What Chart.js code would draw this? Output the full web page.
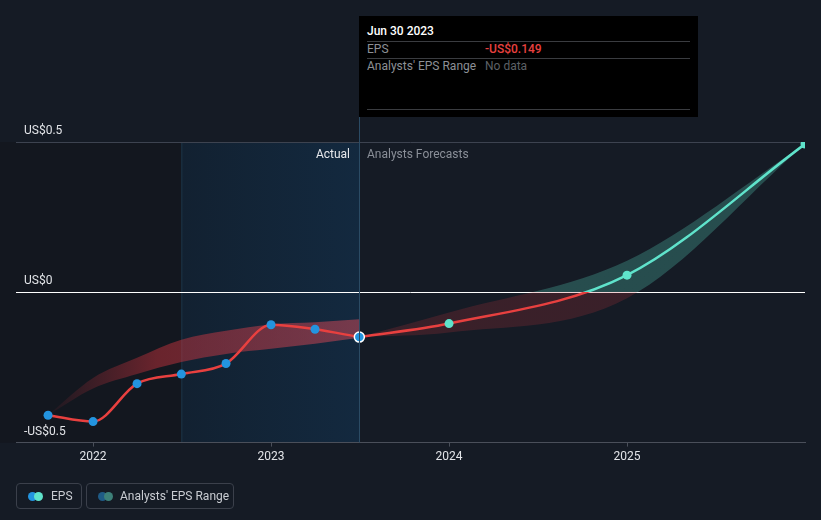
<!DOCTYPE html>
<html>
<head>
<meta charset="utf-8">
<script src="https://cdn.jsdelivr.net/npm/chart.js@4.4.1/dist/chart.umd.min.js"></script>
<style>
  body { margin: 0; background: #151b25; font-family: Roboto, "Noto Sans", sans-serif; }
  #wrap { position: relative; width: 821px; height: 520px; overflow: hidden; }
  canvas { position: absolute; left: 0; top: 0; }
  .lbl { position: absolute; font-size: 12px; line-height: 14px; white-space: nowrap; }
  #tip { position: absolute; left: 359px; top: 16px; width: 339px; height: 101px; background: #000; }
  #tip .row { position: absolute; left: 8px; right: 8px; font-size: 12px; line-height: 14px; }
  #tip .sep { position: absolute; left: 8px; right: 8px; height: 1px; background: #3a3c40; }
  .leg { position: absolute; top: 483px; height: 26px; border: 1px solid #3b404b; border-radius: 4px; box-sizing: border-box; }
  .leg .dot { position: absolute; top: 8px; width: 9px; height: 9px; border-radius: 50%; }
  .leg span { position: absolute; top: 5px; font-size: 12px; line-height: 14px; color: #c9ccd2; white-space: nowrap; }
</style>
</head>
<body>
<div id="wrap">
  <canvas id="epsChart" width="821" height="520"></canvas>
  <div class="lbl" style="right:471px; top:147px; color:#e6e8ec;">Actual</div>
  <div class="lbl" style="left:367px; top:147px; color:#8a8f98;">Analysts Forecasts</div>
  <div id="tip">
    <div class="row" style="top:8px; color:#fff; font-weight:500;">Jun 30 2023</div>
    <div class="sep" style="top:25px;"></div>
    <div class="row" style="top:26px; color:#8d9096;">EPS</div>
    <div class="row" style="top:26px; left:126px; color:#e8403f; font-weight:500;">-US$0.149</div>
    <div class="sep" style="top:42px;"></div>
    <div class="row" style="top:43px; color:#8d9096;">Analysts' EPS Range</div>
    <div class="row" style="top:43px; left:126px; color:#5d6066;">No data</div>
    <div class="sep" style="top:93px;"></div>
  </div>
  <div class="leg" style="left:16px; width:66px;">
    <div class="dot" style="left:11px; background:#2394df;"></div>
    <div class="dot" style="left:17px; background:#5fe3cb;"></div>
    <span style="left:34px;">EPS</span>
  </div>
  <div class="leg" style="left:86px; width:148px;">
    <div class="dot" style="left:11px; background:#1f5b86;"></div>
    <div class="dot" style="left:17px; background:#3d8079;"></div>
    <span style="left:33px;">Analysts' EPS Range</span>
  </div>
</div>
<script>
// dates as decimal years
const actualDates = [2021.747, 2022.0, 2022.247, 2022.496, 2022.747, 2023.0, 2023.247, 2023.496];
const actualEps = [-0.409, -0.43, -0.304, -0.272, -0.237, -0.108, -0.123, -0.149];

const pastRangeHigh = [-0.409, -0.285, -0.218, -0.158, -0.128, -0.107, -0.100, -0.090];
const pastRangeLow = [-0.409, -0.320, -0.272, -0.232, -0.205, -0.188, -0.171, -0.151];

const forecastDates = [2023.496, 2024.0, 2025.0, 2026.0];
const forecastEps = [-0.149, -0.104, 0.057, 0.493];
const forecastHigh = [-0.149, -0.067, 0.105, 0.493];
const forecastLow = [-0.149, -0.134, -0.020, 0.493];

const xTicks = [2022, 2023, 2024, 2025];
const yTicks = [-0.5, 0, 0.5];
const yTickLabels = ["-US$0.5", "US$0", "US$0.5"];

const pastStart = 2022.496;
const hoverDate = 2023.496;

const RED = "#e8403f";
const BLUE = "#2394df";
const TEAL = "#5fe3cb";

function pts(xs, ys) {
    return xs.map((x, i) => ({ x: x, y: ys[i] }));
}

// colour above / below zero
function zeroSplit(context, below, above) {
    const chart = context.chart;
    const area = chart.chartArea;
    if (!area) return below;
    const y0 = chart.scales.y.getPixelForValue(0);
    const g = chart.ctx.createLinearGradient(0, area.top, 0, area.bottom);
    let s = (y0 - area.top) / (area.bottom - area.top);
    s = Math.min(1, Math.max(0, s));
    g.addColorStop(0, above);
    g.addColorStop(s, above);
    g.addColorStop(s, below);
    g.addColorStop(1, below);
    return g;
}

function pastBandFill(context) {
    const chart = context.chart;
    const area = chart.chartArea;
    if (!area) return "rgba(200,60,70,0.4)";
    const x = chart.scales.x;
    const g = chart.ctx.createLinearGradient(x.getPixelForValue(actualDates[0]), 0, x.getPixelForValue(hoverDate), 0);
    g.addColorStop(0, "rgba(200,50,60,0.05)");
    g.addColorStop(0.35, "rgba(200,50,60,0.48)");
    g.addColorStop(1, "rgba(215,75,90,0.5)");
    return g;
}

const backdrop = {
    id: "backdrop",
    beforeDraw(chart) {
        const { ctx, chartArea, scales } = chart;
        const xa = scales.x.getPixelForValue(pastStart);
        const xb = scales.x.getPixelForValue(hoverDate);
        ctx.save();
        ctx.fillStyle = "#13171f";
        ctx.fillRect(0, chartArea.top, xa, chartArea.bottom - chartArea.top);
        const g = ctx.createLinearGradient(xa, 0, xb, 0);
        g.addColorStop(0, "#122131");
        g.addColorStop(1, "#13293f");
        ctx.fillStyle = g;
        ctx.fillRect(xa, chartArea.top, xb - xa, chartArea.bottom - chartArea.top);
        ctx.fillStyle = "#1d3447";
        ctx.fillRect(xa, chartArea.top, 1, chartArea.bottom - chartArea.top);
        ctx.restore();
    },
    afterDatasetsDraw(chart) {
        const { ctx, chartArea, scales } = chart;
        const xb = Math.round(scales.x.getPixelForValue(hoverDate)) + 0.5;
        ctx.save();
        ctx.strokeStyle = "#2b4b64";
        ctx.lineWidth = 1;
        ctx.beginPath();
        ctx.moveTo(xb, 16);
        ctx.lineTo(xb, chartArea.bottom);
        ctx.stroke();
        ctx.restore();
    }
};

const epsChart = new Chart(document.getElementById("epsChart"), {
    type: "line",
    data: {
        datasets: [
            {
                label: "pastHigh",
                data: pts(actualDates, pastRangeHigh),
                borderWidth: 0,
                pointRadius: 0,
                fill: "+1",
                backgroundColor: pastBandFill,
                order: 3,
            },
            {
                label: "pastLow",
                data: pts(actualDates, pastRangeLow),
                borderWidth: 0,
                pointRadius: 0,
                fill: false,
                order: 3,
            },
            {
                label: "forecastHigh",
                data: pts(forecastDates, forecastHigh),
                borderWidth: 0,
                pointRadius: 0,
                fill: "+1",
                backgroundColor: (c) => zeroSplit(c, "rgba(190,50,60,0.22)", "rgba(95,227,203,0.25)"),
                order: 3,
            },
            {
                label: "forecastLow",
                data: pts(forecastDates, forecastLow),
                borderWidth: 0,
                pointRadius: 0,
                fill: false,
                order: 3,
            },
            {
                label: "EPS forecast",
                data: pts(forecastDates, forecastEps),
                borderColor: (c) => zeroSplit(c, RED, TEAL),
                borderWidth: 2.5,
                pointRadius: [0, 4.5, 4.5, 4.5],
                pointBackgroundColor: TEAL,
                pointBorderWidth: 0,
                fill: false,
                clip: 0,
                order: 2,
            },
            {
                label: "EPS",
                data: pts(actualDates, actualEps),
                borderColor: RED,
                borderWidth: 2.5,
                pointRadius: [4.5, 4.5, 4.5, 4.5, 4.5, 4.5, 4.5, 5],
                pointBackgroundColor: BLUE,
                pointBorderColor: ["", "", "", "", "", "", "", "#ffffff"],
                pointBorderWidth: [0, 0, 0, 0, 0, 0, 0, 1.5],
                fill: false,
                clip: 0,
                order: 1,
            },
        ],
    },
    options: {
        responsive: false,
        animation: false,
        events: [],
        cubicInterpolationMode: "monotone",
        layout: { padding: { left: 0, right: 16, top: 142, bottom: 53 } },
        plugins: { legend: { display: false }, tooltip: { enabled: false } },
        scales: {
            x: {
                type: "linear",
                min: 2021.567,
                max: 2026.0,
                afterBuildTicks: (s) => { s.ticks = xTicks.map((v) => ({ value: v })); },
                grid: { drawOnChartArea: false, drawTicks: true, tickLength: 4, color: "#4a4f5a" },
                border: { color: "#4a4f5a" },
                ticks: {
                    color: "#e2e4e8",
                    padding: 3,
                    font: { family: "Roboto", size: 12 },
                    callback: (v) => String(v),
                    maxRotation: 0,
                },
            },
            y: {
                min: -0.5,
                max: 0.5,
                afterBuildTicks: (s) => { s.ticks = yTicks.map((v) => ({ value: v })); },
                border: { display: false },
                grid: {
                    drawTicks: false,
                    color: (c) => (c.tick && c.tick.value === 0 ? "#ffffff" : c.tick && c.tick.value === 0.5 ? "#3d4350" : "rgba(0,0,0,0)"),
                },
                ticks: {
                    mirror: true,
                    padding: 8,
                    labelOffset: -11,
                    color: "#e2e4e8",
                    font: { family: "Roboto", size: 12 },
                    callback: (v) => yTickLabels[yTicks.indexOf(v)],
                },
            },
        },
    },
    plugins: [backdrop],
});
</script>
</body>
</html>
